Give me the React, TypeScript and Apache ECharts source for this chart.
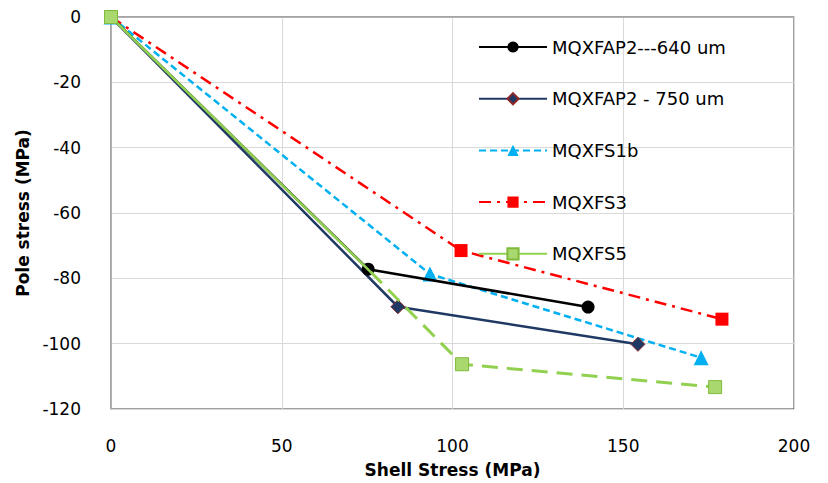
import React, { useEffect, useRef } from "react";
import * as echarts from "echarts";

const xTicks = [0, 50, 100, 150, 200];
const yTicks = [-120, -100, -80, -60, -40, -20, 0];

const ap640X = [0, 75.3, 139.7];
const ap640Y = [0, -77.2, -88.8];
const ap750X = [0, 84, 154.3];
const ap750Y = [0, -88.7, -100.2];
const fs1bX = [0, 93.4, 172.8];
const fs1bY = [0, -78.7, -104.3];
const fs3X = [0, 102.5, 178.9];
const fs3Y = [0, -71.5, -92.5];
const fs5X = [0, 76, 102.8, 176.9];
const fs5Y = [0, -78, -106.3, -113.3];

const names = ["MQXFAP2---640 um", "MQXFAP2 - 750 um", "MQXFS1b", "MQXFS3", "MQXFS5"];

const pts = (xs: number[], ys: number[]) => xs.map((x, i) => [x, ys[i]]);

const FONT = "DejaVu Sans";

export default function App() {
  const ref = useRef<HTMLDivElement>(null);
  useEffect(() => {
    if (!ref.current) return;
    const chart = echarts.init(ref.current, undefined, { renderer: "svg" });
    const fs5 = pts(fs5X, fs5Y);
    chart.setOption({
      animation: false,
      backgroundColor: "#ffffff",
      grid: {
        left: 111,
        right: 34,
        top: 17,
        bottom: 71,
        show: true,
        borderColor: "#404040",
        borderWidth: 1,
      },
      legend: {
        data: names,
        orient: "vertical",
        left: 473,
        top: 33,
        itemWidth: 68,
        itemHeight: 14,
        itemGap: 33.7,
        textStyle: { fontSize: 18, color: "#000", fontFamily: FONT },
      },
      xAxis: {
        type: "value",
        min: xTicks[0],
        max: xTicks[xTicks.length - 1],
        interval: 50,
        name: "Shell Stress (MPa)",
        nameLocation: "middle",
        nameGap: 52,
        nameTextStyle: { fontSize: 17, fontWeight: "bold", color: "#000", fontFamily: FONT },
        axisLine: { show: true, lineStyle: { color: "#a6a6a6", width: 1.5 } },
        axisTick: { show: false },
        axisLabel: { fontSize: 17, color: "#000", margin: 28, fontFamily: FONT },
        splitLine: { show: true, lineStyle: { color: "#d9d9d9", width: 1 } },
      },
      yAxis: {
        type: "value",
        min: yTicks[0],
        max: yTicks[yTicks.length - 1],
        interval: 20,
        name: "Pole stress (MPa)",
        nameLocation: "middle",
        nameRotate: 90,
        nameGap: 74,
        nameTextStyle: { fontSize: 17, fontWeight: "bold", color: "#000", fontFamily: FONT },
        axisLine: { show: true, onZero: false, lineStyle: { color: "#a6a6a6", width: 1.5 } },
        axisTick: { show: false },
        axisLabel: { fontSize: 17, color: "#000", margin: 30, fontFamily: FONT },
        splitLine: { show: true, lineStyle: { color: "#d9d9d9", width: 1 } },
      },
      series: [
        {
          name: names[2],
          type: "line",
          data: pts(fs1bX, fs1bY),
          symbol: "triangle",
          symbolSize: 15,
          itemStyle: { color: "#00b0f0" },
          lineStyle: { color: "#00b0f0", width: 2.5, type: [7, 4] },
          z: 2,
        },
        {
          name: names[3],
          type: "line",
          data: pts(fs3X, fs3Y),
          symbol: "rect",
          symbolSize: 13,
          itemStyle: { color: "#ff0000" },
          lineStyle: { color: "#ff0000", width: 2.5, type: [12, 6, 3, 6] },
          z: 2,
        },
        {
          name: names[0],
          type: "line",
          data: pts(ap640X, ap640Y),
          symbol: "circle",
          symbolSize: 13,
          itemStyle: { color: "#000000" },
          lineStyle: { color: "#000000", width: 2.5 },
          z: 3,
        },
        {
          name: names[1],
          type: "line",
          data: pts(ap750X, ap750Y),
          symbol: "diamond",
          symbolSize: 14,
          itemStyle: { color: "#1f3864", borderColor: "#8b2a2a", borderWidth: 1 },
          lineStyle: { color: "#1f3864", width: 2.5 },
          z: 3,
        },
        {
          name: "MQXFS5_tail",
          type: "line",
          data: fs5.slice(1).map((p, i) => (i === 0 ? { value: p, symbol: "none" } : p)),
          symbol: "rect",
          symbolSize: 13,
          itemStyle: { color: "#a9d96e", borderColor: "#7fba3c", borderWidth: 1 },
          lineStyle: { color: "#92d050", width: 3, type: [16, 9] },
          z: 4,
        },
        {
          name: names[4],
          type: "line",
          data: fs5.slice(0, 2).map((p, i) => (i === 1 ? { value: p, symbol: "none" } : p)),
          symbol: "rect",
          symbolSize: 13,
          itemStyle: { color: "#a9d96e", borderColor: "#7fba3c", borderWidth: 1 },
          lineStyle: { color: "#92d050", width: 2.5 },
          z: 5,
        },
      ],
    });
    return () => chart.dispose();
  }, []);
  return (
    <div
      ref={ref}
      style={{ position: "fixed", left: 0, top: 0, width: 828, height: 483 }}
    />
  );
}
